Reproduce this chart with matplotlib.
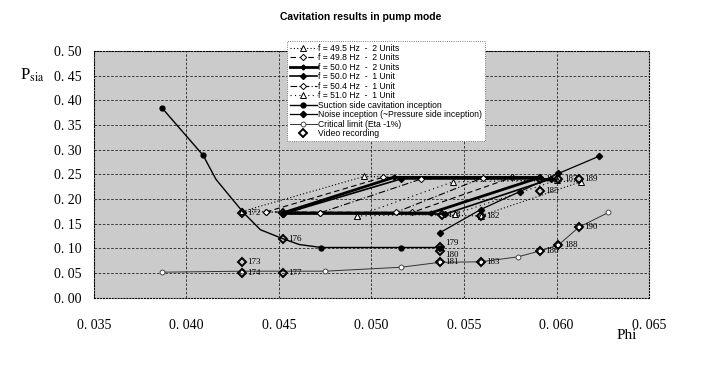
import matplotlib
matplotlib.use("Agg")
import matplotlib.pyplot as plt

plt.rcParams['mathtext.fontset'] = 'stix'

# ---- data ----
s495_x = [0.0430, 0.0559, 0.0613, 0.0496, 0.0430]
s495_y = [0.175, 0.166, 0.235, 0.246, 0.175]
s498_x = [0.0443, 0.0522, 0.0576, 0.0506, 0.0443]
s498_y = [0.174, 0.173, 0.244, 0.244, 0.174]
s500_2_x = [0.0452, 0.0532, 0.0591, 0.0512, 0.0452]
s500_2_y = [0.172, 0.172, 0.244, 0.244, 0.172]
s500_1_x = [0.0452, 0.0540, 0.0597, 0.0516, 0.0452]
s500_1_y = [0.170, 0.170, 0.241, 0.241, 0.170]
s504_x = [0.0472, 0.0513, 0.0560, 0.0527, 0.0472]
s504_y = [0.172, 0.173, 0.243, 0.241, 0.172]
s510_x = [0.0492, 0.0545, 0.0600, 0.0544, 0.0492]
s510_y = [0.166, 0.170, 0.238, 0.235, 0.166]

suction_x = [0.0387, 0.0409, 0.0416, 0.0425, 0.0431, 0.0440, 0.0452, 0.0461, 0.0473, 0.0516, 0.0537]
suction_y = [0.384, 0.289, 0.240, 0.199, 0.172, 0.138, 0.120, 0.108, 0.102, 0.102, 0.102]
suction_marks = [0, 1, 8, 9, 10]

noise_x = [0.0537, 0.0559, 0.0580, 0.0601, 0.0623]
noise_y = [0.132, 0.179, 0.215, 0.252, 0.287]

crit_x = [0.0387, 0.0430, 0.0475, 0.0516, 0.0537, 0.0559, 0.0579, 0.0591, 0.0601, 0.0612, 0.0628]
crit_y = [0.052, 0.054, 0.054, 0.062, 0.072, 0.073, 0.083, 0.095, 0.107, 0.143, 0.173]

video_ids = ['172', '173', '174', '175', '176', '177', '178', '179', '180', '181',
             '182', '183', '184', '185', '186', '187', '188', '189', '190']
video_x = [0.0430, 0.0430, 0.0430, 0.0452, 0.0452, 0.0452, 0.0538, 0.0537, 0.0537, 0.0537,
           0.0559, 0.0559, 0.0591, 0.0591, 0.0591, 0.0601, 0.0601, 0.0612, 0.0612]
video_y = [0.172, 0.073, 0.050, 0.172, 0.120, 0.050, 0.168, 0.103, 0.095, 0.072,
           0.165, 0.072, 0.240, 0.216, 0.095, 0.240, 0.107, 0.240, 0.143]

x_ticks = [0.035, 0.040, 0.045, 0.050, 0.055, 0.060, 0.065]
x_tick_labels = ['0. 035', '0. 040', '0. 045', '0. 050', '0. 055', '0. 060', '0. 065']
y_ticks = [0.00, 0.05, 0.10, 0.15, 0.20, 0.25, 0.30, 0.35, 0.40, 0.45, 0.50]
y_tick_labels = ['0. 00', '0. 05', '0. 10', '0. 15', '0. 20', '0. 25', '0. 30', '0. 35',
                 '0. 40', '0. 45', '0. 50']

# label nudges (points) so stacked labels stay readable
label_dy = {'179': 3, '180': -3}

fig = plt.figure(figsize=(7.22, 3.65), dpi=100)
ax = fig.add_axes([0.130, 0.184, 0.769, 0.676])
ax.set_facecolor('#cbcbcb')

k = 'black'
ax.plot(s495_x, s495_y, ls=(0, (1, 2)), lw=0.8, color=k, marker='^', ms=4, mfc='white', mew=0.7,
        label='f = 49.5 Hz  -  2 Units')
ax.plot(s498_x, s498_y, ls=(0, (5, 3)), lw=0.8, color=k, marker='D', ms=3.2, mfc='white', mew=0.7,
        label='f = 49.8 Hz  -  2 Units')
ax.plot(s500_2_x, s500_2_y, ls='-', lw=2.0, color=k, marker='D', ms=2.5, mfc=k,
        label='f = 50.0 Hz  -  2 Units')
ax.plot(s500_1_x, s500_1_y, ls='-', lw=1.2, color=k, marker='D', ms=3, mfc=k,
        label='f = 50.0 Hz  -  1 Unit')
ax.plot(s504_x, s504_y, ls=(0, (6, 2, 1, 2)), lw=0.8, color=k, marker='D', ms=3.2, mfc='white', mew=0.7,
        label='f = 50.4 Hz  -  1 Unit')
ax.plot(s510_x, s510_y, ls=(0, (1, 3)), lw=0.8, color=k, marker='^', ms=4, mfc='white', mew=0.7,
        label='f = 51.0 Hz  -  1 Unit')
ax.plot(suction_x, suction_y, ls='-', lw=1.0, color=k, marker='o', ms=3.5, mfc=k,
        markevery=suction_marks, label='Suction side cavitation inception')
ax.plot(noise_x, noise_y, ls='-', lw=0.9, color=k, marker='D', ms=3.2, mfc=k,
        label='Noise inception (~Pressure side inception)')
ax.plot(crit_x, crit_y, ls='-', lw=0.7, color='#333333', marker='o', ms=3.5, mfc='white', mew=0.6,
        label='Critical limit (Eta -1%)')
ax.plot(video_x, video_y, ls='none', color=k, marker='D', ms=4.2, mfc='none', mew=1.4,
        label='Video recording')

for lab, xx, yy in zip(video_ids, video_x, video_y):
    ax.annotate(lab, (xx, yy), xytext=(4, label_dy.get(lab, 0)), textcoords='offset points',
                va='center', ha='left', fontsize=6.5, family='Liberation Serif', color=k)

ax.set_xlim(0.035, 0.065)
ax.set_ylim(0.0, 0.5)
ax.set_xticks(x_ticks)
ax.set_xticklabels(x_tick_labels, family='Liberation Serif', fontsize=10)
ax.set_yticks(y_ticks)
ax.set_yticklabels(y_tick_labels, family='Liberation Serif', fontsize=10)
ax.tick_params(axis='x', length=0, pad=15)
ax.tick_params(axis='y', length=0, pad=9)
ax.grid(True, color='#222222', ls=(0, (3, 2)), lw=0.6)
for sp in ax.spines.values():
    sp.set_linestyle(':')
    sp.set_linewidth(0.8)

leg = ax.legend(loc='upper left', bbox_to_anchor=(0.348, 1.041), borderaxespad=0,
                prop={'family': 'Liberation Sans', 'size': 6.2}, handlelength=3.2,
                handletextpad=0.1, labelspacing=0.06, borderpad=0.3, fancybox=False,
                framealpha=1, facecolor='white', edgecolor='#555555')
leg.get_frame().set_linestyle(':')
leg.get_frame().set_linewidth(0.6)

fig.text(0.499, 0.953, 'Cavitation results in pump mode', ha='center', va='center',
         fontsize=7.5, fontweight='bold', family='Liberation Sans')
fig.text(0.028, 0.795, 'P$_{\\mathrm{sia}}$', ha='left', va='center', fontsize=12,
         family='Liberation Serif')
fig.text(0.868, 0.082, 'Phi', ha='center', va='center', fontsize=11, family='Liberation Serif')

fig.savefig('out.png', dpi=100)
